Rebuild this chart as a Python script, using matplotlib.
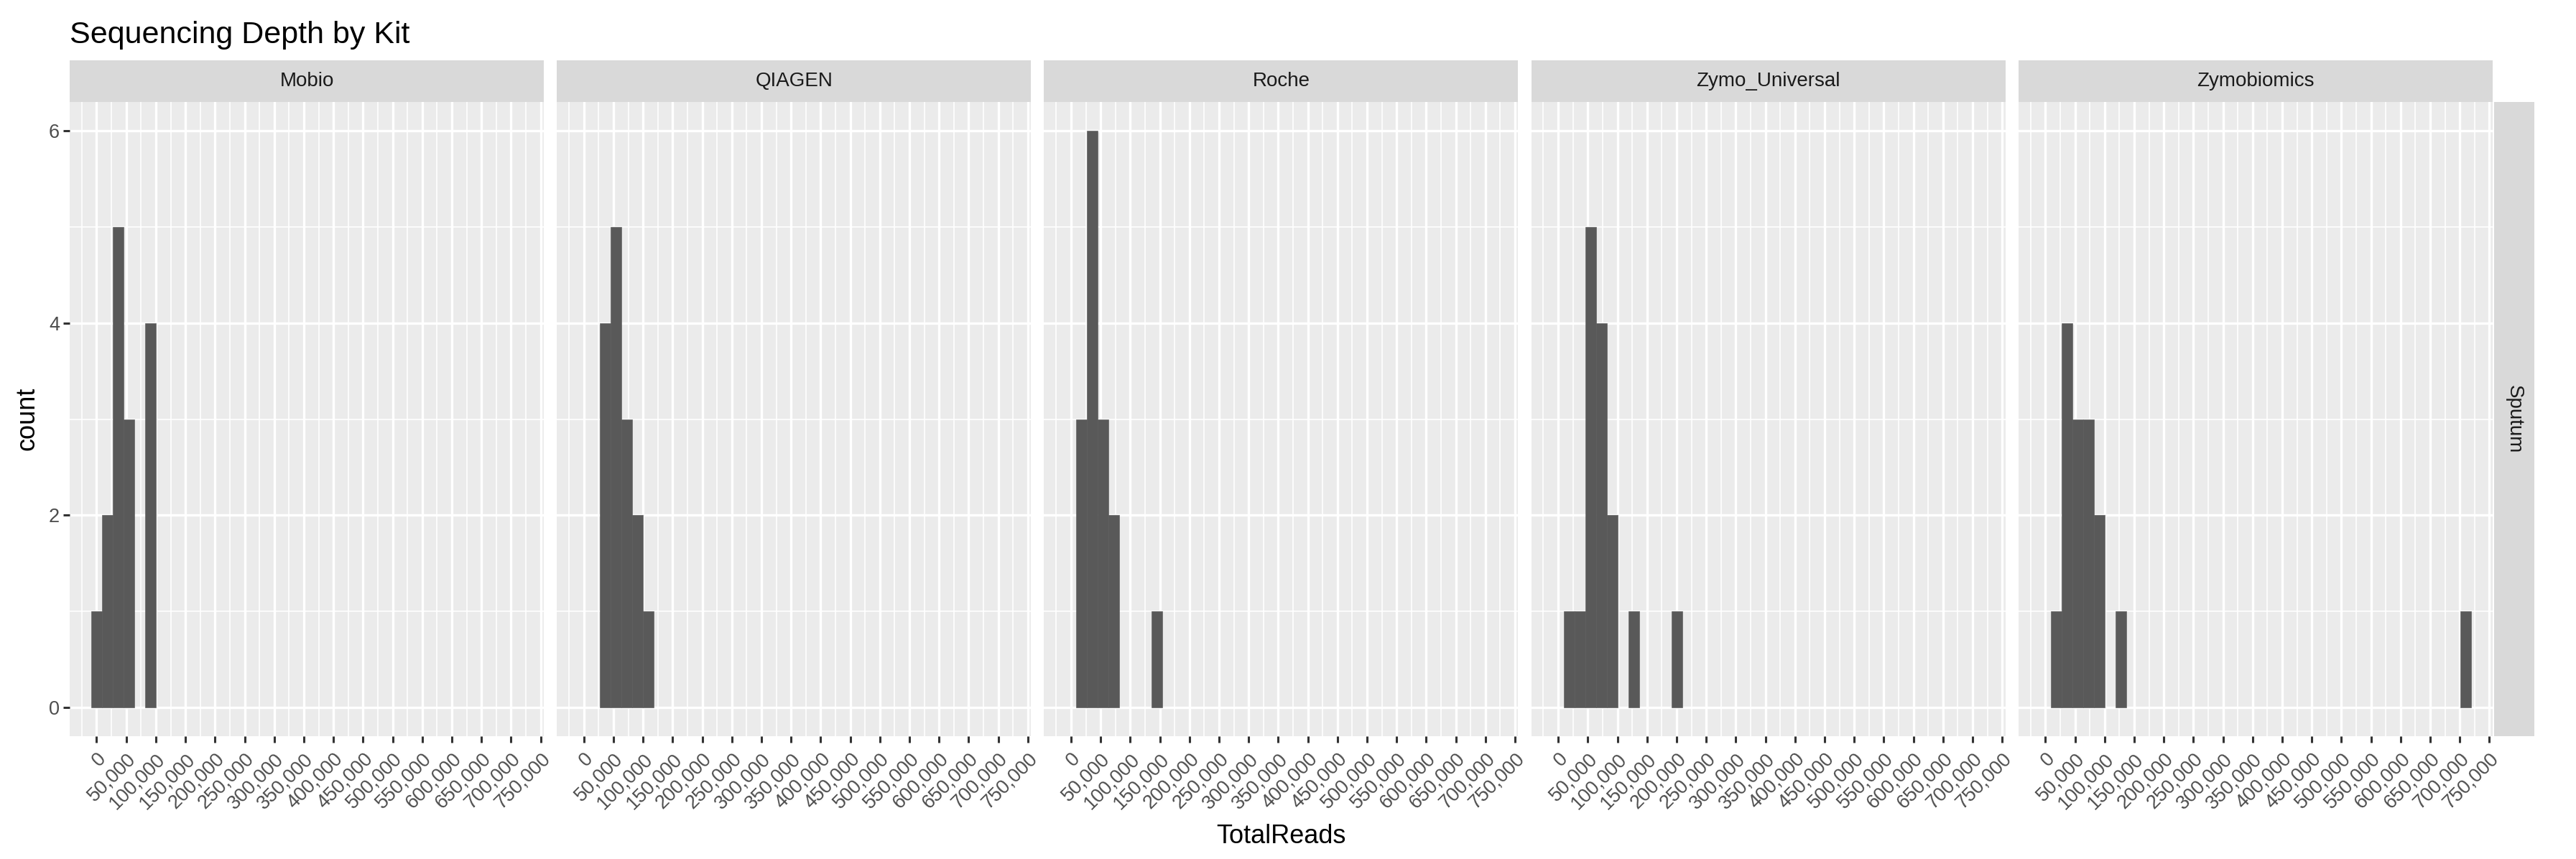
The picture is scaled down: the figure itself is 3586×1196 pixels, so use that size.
import matplotlib
matplotlib.use("Agg")
import matplotlib.pyplot as plt
from matplotlib.ticker import FixedLocator
import numpy as np

plt.rcParams['font.family'] = ['Liberation Sans', 'DejaVu Sans']

# facets
kits = ["Mobio", "QIAGEN", "Roche", "Zymo_Universal", "Zymobiomics"]
sample_type = "Sputum"

# histogram bins (40 bins, shared by all panels)
n_bins = 40
bin_width = 18200
bin_start = -bin_width / 2

# occupied bin index -> count
mobio_bins = [0, 1, 2, 3, 5]
mobio_counts = [1, 2, 5, 3, 4]
qiagen_bins = [2, 3, 4, 5, 6]
qiagen_counts = [4, 5, 3, 2, 1]
roche_bins = [1, 2, 3, 4, 8]
roche_counts = [3, 6, 3, 2, 1]
zymo_universal_bins = [1, 2, 3, 4, 5, 7, 11]
zymo_universal_counts = [1, 1, 5, 4, 2, 1, 1]
zymobiomics_bins = [1, 2, 3, 4, 5, 7, 39]
zymobiomics_counts = [1, 4, 3, 3, 2, 1, 1]

x_breaks = np.arange(0, 750001, 50000)
x_labels = [f"{v:,}" for v in x_breaks]
y_breaks = [0, 2, 4, 6]

panels = [
    (mobio_bins, mobio_counts),
    (qiagen_bins, qiagen_counts),
    (roche_bins, roche_counts),
    (zymo_universal_bins, zymo_universal_counts),
    (zymobiomics_bins, zymobiomics_counts),
]

W, H = 3587, 1196
fig = plt.figure(figsize=(W / 100, H / 100), dpi=100)


def px(x, y, w, h):
    # pixel box (top-left origin) -> figure fraction
    return [x / W, 1 - (y + h) / H, w / W, h / H]


bg = "#EBEBEB"
strip_bg = "#D9D9D9"
bar_col = "#595959"

lo = bin_start
hi = bin_start + n_bins * bin_width
pad = 0.05 * (hi - lo)
xlim = (lo - pad, hi + pad)
ylim = (-0.3, 6.3)

panel_top, panel_h = 142, 883
panel_w, step, left0 = 660, 678.2, 97

for i, (kit, (bins, counts)) in enumerate(zip(kits, panels)):
    x0 = left0 + i * step
    ax = fig.add_axes(px(x0, panel_top, panel_w, panel_h))
    ax.set_facecolor(bg)
    edges = bin_start + np.array(bins) * bin_width
    ax.bar(edges, counts, width=bin_width, align="edge", color=bar_col,
           edgecolor=bar_col, linewidth=0.4, zorder=3)
    ax.set_xlim(*xlim)
    ax.set_ylim(*ylim)
    ax.xaxis.set_major_locator(FixedLocator(x_breaks))
    ax.xaxis.set_minor_locator(FixedLocator(np.arange(-25000, 750000, 50000)))
    ax.yaxis.set_major_locator(FixedLocator(y_breaks))
    ax.yaxis.set_minor_locator(FixedLocator([1, 3, 5]))
    ax.grid(which="major", color="white", linewidth=2.4, zorder=1)
    ax.grid(which="minor", color="white", linewidth=1.2, zorder=1)
    ax.set_axisbelow(True)
    for s in ax.spines.values():
        s.set_visible(False)
    ax.set_xticklabels(x_labels, rotation=45, ha="right", va="top",
                       rotation_mode="anchor", fontsize=19.5, color="#4D4D4D")
    ax.tick_params(axis="x", which="major", length=6.5, width=2.2,
                   color="#333333", pad=7)
    ax.tick_params(which="minor", length=0)
    if i == 0:
        ax.set_yticklabels([str(v) for v in y_breaks], fontsize=19.5, color="#4D4D4D")
        ax.tick_params(axis="y", which="major", length=6.5, width=2.2,
                       color="#333333", pad=3.5)
    else:
        ax.tick_params(axis="y", which="major", length=0, labelleft=False)

    # top strip
    sax = fig.add_axes(px(x0, 84, panel_w, 58))
    sax.set_facecolor(strip_bg)
    sax.set_xticks([])
    sax.set_yticks([])
    for s in sax.spines.values():
        s.set_visible(False)
    sax.text(0.5, 0.5, kit, ha="center", va="center", fontsize=20,
             color="#1A1A1A", transform=sax.transAxes)

# right strip
rax = fig.add_axes(px(3472, panel_top, 56, panel_h))
rax.set_facecolor(strip_bg)
rax.set_xticks([])
rax.set_yticks([])
for s in rax.spines.values():
    s.set_visible(False)
rax.text(0.5, 0.5, sample_type, ha="center", va="center", rotation=-90,
         fontsize=20, color="#1A1A1A", transform=rax.transAxes)

# titles
fig.text(97 / W, 1 - 60 / H, "Sequencing Depth by Kit", ha="left",
         va="baseline", fontsize=31, color="black")
fig.text(1783 / W, 1 - 1174 / H, "TotalReads", ha="center", va="baseline",
         fontsize=26, color="black")
fig.text(38 / W, 1 - 583 / H, "count", ha="center", va="center",
         rotation=90, fontsize=26, color="black")

fig.savefig("out.png", dpi=100, facecolor="white")
